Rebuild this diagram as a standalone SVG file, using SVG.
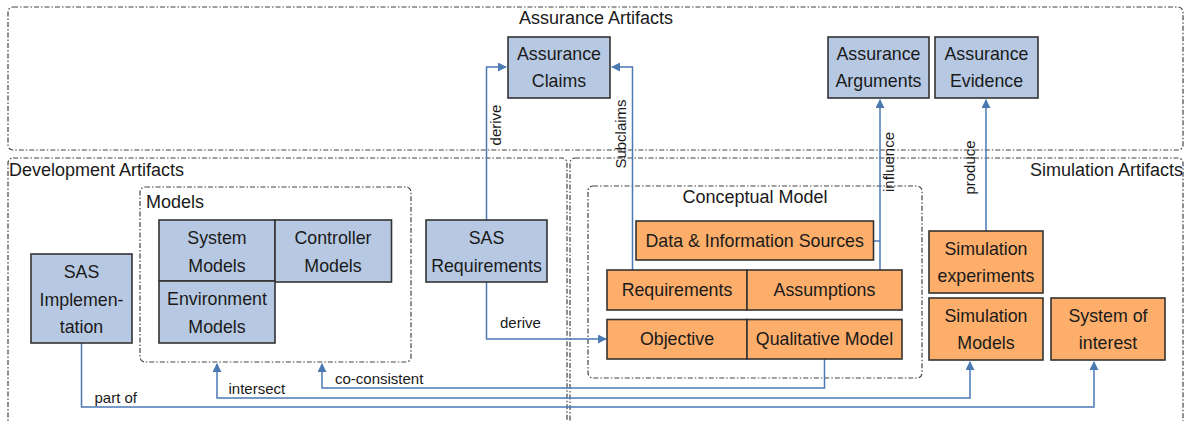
<svg xmlns="http://www.w3.org/2000/svg" width="1186" height="421" viewBox="0 0 1186 421">
<defs>
<marker id="arr" viewBox="0 0 10 10" refX="9" refY="5" markerWidth="9" markerHeight="9" markerUnits="userSpaceOnUse" orient="auto-start-reverse">
<path d="M0,0 L10,5 L0,10 z" fill="#4a7ab2"/>
</marker>
<style>
.cont{fill:none;stroke:#444;stroke-width:1.2;stroke-dasharray:5 2 1.5 2}
.blue{fill:#b7c9e2;stroke:#333;stroke-width:1.6}
.orange{fill:#fdae6b;stroke:#333;stroke-width:1.6}
.t{font-family:"Liberation Sans",Arial,sans-serif;font-size:17.8px;fill:#1a1a1a;text-anchor:middle}
.ct{font-family:"Liberation Sans",Arial,sans-serif;font-size:18px;fill:#1a1a1a}
.lb{font-family:"Liberation Sans",Arial,sans-serif;font-size:15px;fill:#1a1a1a}
.c{fill:none;stroke:#4a7ab2;stroke-width:1.5}
</style>
</defs>
<rect width="1186" height="421" fill="#ffffff"/>

<g id="containers">
<g id="assurance-artifacts">
<rect class="cont" x="8" y="7" width="1175" height="143" rx="5"/>
<text class="ct" x="596" y="24" text-anchor="middle">Assurance Artifacts</text>
</g>
<g id="development-artifacts">
<rect class="cont" x="8" y="158" width="559" height="275" rx="5"/>
<text class="ct" x="9" y="176">Development Artifacts</text>
</g>
<g id="simulation-artifacts">
<rect class="cont" x="570" y="158" width="613" height="275" rx="5"/>
<text class="ct" x="1183" y="176" text-anchor="end">Simulation Artifacts</text>
</g>
<g id="models">
<rect class="cont" x="140" y="187" width="271" height="175" rx="5"/>
<text class="ct" x="146" y="208">Models</text>
</g>
<g id="conceptual-model">
<rect class="cont" x="588" y="186" width="334" height="192" rx="5"/>
<text class="ct" x="755" y="203" text-anchor="middle">Conceptual Model</text>
</g>
</g>

<g id="connectors">
<path class="c" d="M486.5,220 V67 H506" marker-end="url(#arr)"/>
<text class="lb" transform="translate(501,125) rotate(-90)" text-anchor="middle">derive</text>
<path class="c" d="M632.5,270 V67 H612" marker-end="url(#arr)"/>
<text class="lb" transform="translate(625.5,134) rotate(-90)" text-anchor="middle">Subclaims</text>
<path class="c" d="M880,270 V100" marker-end="url(#arr)"/>
<path class="c" d="M873.5,241 H880"/>
<text class="lb" transform="translate(894,162) rotate(-90)" text-anchor="middle">influence</text>
<path class="c" d="M986,231 V100" marker-end="url(#arr)"/>
<text class="lb" transform="translate(975,167.5) rotate(-90)" text-anchor="middle">produce</text>
<path class="c" d="M486.5,282 V339 H606" marker-end="url(#arr)"/>
<text class="lb" x="500" y="328">derive</text>
<path class="c" d="M824.5,359 V388 H322 V364" marker-end="url(#arr)"/>
<text class="lb" x="335" y="384">co-consistent</text>
<path class="c" d="M217,364 V398 H970 V362" marker-start="url(#arr)" marker-end="url(#arr)"/>
<text class="lb" x="228.5" y="394">intersect</text>
<path class="c" d="M81.5,343 V407 H1094 V362" marker-end="url(#arr)"/>
<text class="lb" x="94.5" y="403">part of</text>
</g>

<g id="assurance-claims">
<rect class="blue" x="508" y="37" width="102" height="61"/>
<text class="t" x="559" y="60">Assurance</text>
<text class="t" x="559" y="87">Claims</text>
</g>
<g id="assurance-arguments">
<rect class="blue" x="828" y="37" width="101" height="61"/>
<text class="t" x="878.5" y="60">Assurance</text>
<text class="t" x="878.5" y="87">Arguments</text>
</g>
<g id="assurance-evidence">
<rect class="blue" x="935" y="37" width="103" height="61"/>
<text class="t" x="986.5" y="60">Assurance</text>
<text class="t" x="986.5" y="87">Evidence</text>
</g>
<g id="system-models">
<rect class="blue" x="159" y="220" width="116" height="61"/>
<text class="t" x="217" y="244">System</text>
<text class="t" x="217" y="271.5">Models</text>
</g>
<g id="controller-models">
<rect class="blue" x="275" y="220" width="116.5" height="62"/>
<text class="t" x="333" y="244">Controller</text>
<text class="t" x="333" y="271.5">Models</text>
</g>
<g id="environment-models">
<rect class="blue" x="159" y="281" width="116" height="62"/>
<text class="t" x="217" y="305">Environment</text>
<text class="t" x="217" y="332.5">Models</text>
</g>
<g id="sas-implementation">
<rect class="blue" x="31" y="254" width="101" height="89"/>
<text class="t" x="81.5" y="278">SAS</text>
<text class="t" x="81.5" y="305.5">Implemen-</text>
<text class="t" x="81.5" y="333">tation</text>
</g>
<g id="sas-requirements">
<rect class="blue" x="426" y="220" width="121" height="62"/>
<text class="t" x="486.5" y="244">SAS</text>
<text class="t" x="486.5" y="271.5">Requirements</text>
</g>
<g id="data-information-sources">
<rect class="orange" x="636" y="221" width="237.5" height="39"/>
<text class="t" x="754.7" y="247">Data &amp; Information Sources</text>
</g>
<g id="requirements">
<rect class="orange" x="607" y="270" width="140" height="40"/>
<text class="t" x="677" y="296">Requirements</text>
</g>
<g id="assumptions">
<rect class="orange" x="747" y="270" width="155" height="40"/>
<text class="t" x="824.5" y="296">Assumptions</text>
</g>
<g id="objective">
<rect class="orange" x="607" y="319.5" width="140" height="39.5"/>
<text class="t" x="677" y="345">Objective</text>
</g>
<g id="qualitative-model">
<rect class="orange" x="747" y="319.5" width="155" height="39.5"/>
<text class="t" x="824.5" y="345">Qualitative Model</text>
</g>
<g id="simulation-experiments">
<rect class="orange" x="929" y="231" width="114" height="62"/>
<text class="t" x="986" y="255">Simulation</text>
<text class="t" x="986" y="282">experiments</text>
</g>
<g id="simulation-models">
<rect class="orange" x="929" y="298" width="114" height="62"/>
<text class="t" x="986" y="321.5">Simulation</text>
<text class="t" x="986" y="349">Models</text>
</g>
<g id="system-of-interest">
<rect class="orange" x="1051" y="298" width="114" height="62"/>
<text class="t" x="1108" y="321.5">System of</text>
<text class="t" x="1108" y="349">interest</text>
</g>
</svg>
